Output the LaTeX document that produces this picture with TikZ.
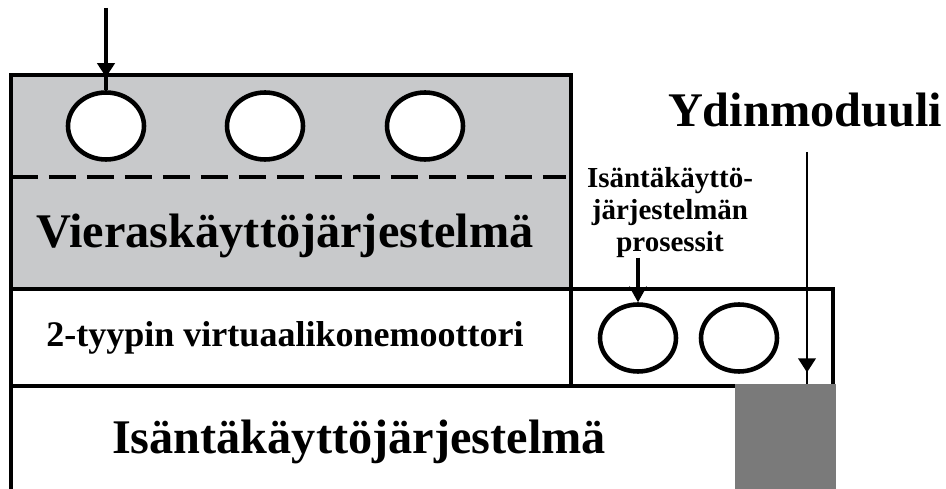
\documentclass[tikz,border=0pt]{standalone}
\usepackage{fontspec}
\setmainfont{Liberation Serif}
\usetikzlibrary{shapes.geometric,arrows.meta,decorations.markings}

\definecolor{guestgray}{HTML}{C8C9CB}
\definecolor{modgray}{HTML}{7A7A7A}

\tikzset{
	box/.style={line width=1.9pt},
	proc/.style={ellipse, draw, line width=2.6pt, fill=white, inner sep=0pt,
		minimum width=1.52cm, minimum height=1.34cm},
	bigtext/.style={font=\fontsize{27.5}{30}\selectfont\bfseries},
	midtext/.style={font=\fontsize{20.5}{24}\selectfont\bfseries},
	smalltext/.style={font=\fontsize{16.5}{18.1}\selectfont\bfseries},
	tipat/.style={decoration={markings,
		mark=at position #1 with {\arrow{Triangle[length=8pt,width=10pt]}}},
		postaction={decorate}}
}

\begin{document}
\begin{tikzpicture}[x=0.02cm,y=-0.02cm]
	\useasboundingbox (0,0) rectangle (946,489);
	% guest os with its processes
	\draw[box, fill=guestgray] (11,75) rectangle (571,289);
	\draw[box, dash pattern=on 0.54cm off 0.22cm] (11,177) -- (566,177);
	\node[proc] (g1) at (106,126) {};
	\node[proc] (g2) at (265,126) {};
	\node[proc] (g3) at (425,126) {};
	\node[bigtext, anchor=base] (guest) at (285,248) {Vieraskäyttöjärjestelmä};
	\coordinate (gin) at (106,8);
	\draw[line width=1.8pt, tipat=0.84] (gin) -- (g1.north);

	% hypervisor and host processes
	\draw[box] (11,289) rectangle (571,386);
	\draw[box] (571,289) rectangle (833,386);
	\draw[line width=2.3pt] (11,386) -- (735,386);
	\node[midtext, anchor=base] (vmm) at (285,346) {2-tyypin virtuaalikonemoottori};
	\node[proc] (h1) at (638,338) {};
	\node[proc] (h2) at (739,338) {};
	\node[smalltext, align=center, anchor=north, inner sep=0pt] (plab) at (670,167)
		{Isäntäkäyttö-\\järjestelmän\\prosessit};
	\draw[line width=1.9pt, -{Stealth[length=9pt,width=10pt]}] (plab.south -| h1.north) -- (h1.north);

	% host os and kernel module
	\draw[box] (11,386) -- (11,489);
	\node[fill=modgray, inner sep=0pt, minimum width=2.02cm, minimum height=2.1cm,
		anchor=north west] (kmod) at (735,384) {};
	\node[bigtext, anchor=base] (host) at (359,453) {Isäntäkäyttöjärjestelmä};
	\node[bigtext, anchor=base] (ydin) at (805,127) {Ydinmoduuli};
	\coordinate (ktop) at (807,152);
	\draw[line width=1.2pt, tipat=0.95] (ktop) -- (ktop |- kmod.north);
\end{tikzpicture}
\end{document}
